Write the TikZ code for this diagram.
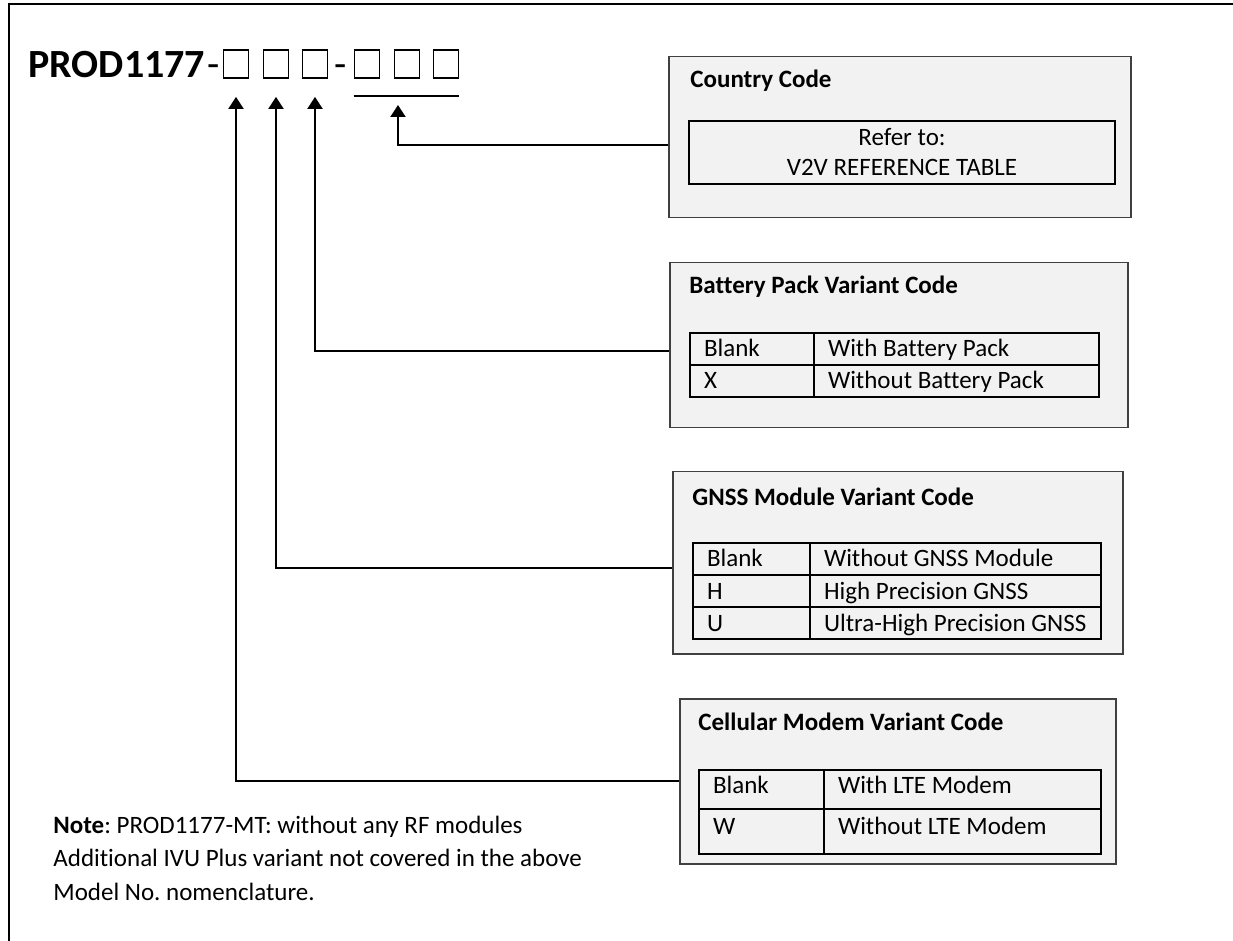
\documentclass[tikz,border=0pt]{standalone}
\usepackage{fontspec}
\setmainfont{Carlito}[Ligatures=NoCommon]
\usetikzlibrary{arrows.meta,positioning}
\newcommand\bodyfont{\fontsize{12.5}{15}\selectfont}
\newcommand\modelfont{\fontsize{20}{24}\selectfont}
\tikzset{
  codebox/.style  = {rectangle, draw=black!75, fill=black!5, line width=0.75pt,
                     anchor=north west, inner sep=0pt},
  boxtitle/.style = {anchor=base west, inner sep=0pt, font=\bodyfont\bfseries},
  cell/.style     = {rectangle, draw=black, line width=1pt, anchor=north west,
                     inner xsep=7pt, inner ysep=0pt, align=flush left},
  rowa/.style     = {text height=12pt, text depth=4pt},
  sq/.style       = {rectangle, draw=black, line width=0.9pt, minimum width=12.5pt,
                     minimum height=14pt, inner sep=0pt},
  ar/.style       = {-{Triangle[length=6pt, width=7.5pt]}, line width=1pt}
}
\begin{document}
\frenchspacing
\begin{tikzpicture}[x=0.5pt, y=-0.5pt, font=\bodyfont]
  \useasboundingbox (0,0) rectangle (1233,941);
  \draw[line width=1pt] (1233,4) -- (9,4) -- (9,941);

  % model number
  \node[anchor=base west, inner sep=0pt, font=\modelfont\bfseries] (prod) at (28,78) {PROD1177};
  \node[anchor=base west, inner sep=0pt, font=\modelfont] (dash1) at ([xshift=1pt]prod.base east) {-};
  \foreach \i/\x in {1/236,2/276,3/315,4/367,5/407,6/446}
    \node[sq] (s\i) at (\x,64) {};
  \node[anchor=base, inner sep=0pt, font=\modelfont] (dash2) at (341,78) {-};
  \draw[line width=1pt] ([yshift=-8.5pt]s4.south west) -- ([yshift=-8.5pt]s6.south east);
  \coordinate (t4) at (398,105);

  % country code
  \node[codebox, minimum width=231pt, minimum height=80.5pt] (country) at (668,56) {};
  \node[boxtitle] (countryt) at (690,88) {Country Code};
  \node[draw=black, line width=1pt, anchor=north west, minimum width=213pt, minimum height=31.5pt,
        align=center, inner sep=0pt, font=\fontsize{12.5}{15}\selectfont] (ref) at (688,120)
        {Refer to:\\V2V REFERENCE TABLE};

  % battery pack
  \node[codebox, minimum width=229pt, minimum height=82.5pt] (battery) at (669,262) {};
  \node[boxtitle] (batteryt) at (689,294) {Battery Pack Variant Code};
  \node[cell, rowa, text width=48pt] (b11) at (689,332) {Blank};
  \node[cell, rowa, text width=128.5pt] (b12) at (813,332) {With Battery Pack};
  \node[cell, rowa, text width=48pt] (b21) at (689,364) {X};
  \node[cell, rowa, text width=128.5pt] (b22) at (813,364) {Without Battery Pack};

  % gnss module
  \node[codebox, minimum width=225pt, minimum height=91pt] (gnss) at (672,471) {};
  \node[boxtitle] (gnsst) at (692,505) {GNSS Module Variant Code};
  \node[cell, rowa, text width=44.5pt] (g11) at (692,542) {Blank};
  \node[cell, rowa, text width=131.5pt] (g12) at (809,542) {Without GNSS Module};
  \node[cell, rowa, text width=44.5pt] (g21) at (692,574) {H};
  \node[cell, rowa, text width=131.5pt] (g22) at (809,574) {High Precision GNSS};
  \node[cell, rowa, text width=44.5pt] (g31) at (692,606) {U};
  \node[cell, rowa, text width=131.5pt] (g32) at (809,606) {\mbox{Ultra-High Precision GNSS}};

  % cellular modem
  \node[codebox, minimum width=218pt, minimum height=82.5pt] (cellular) at (679,698) {};
  \node[boxtitle] (cellulart) at (698,730) {Cellular Modem Variant Code};
  \node[cell, text height=11.5pt, text depth=8pt, text width=48.5pt] (c11) at (698,769) {Blank};
  \node[cell, text height=11.5pt, text depth=8pt, text width=124.5pt] (c12) at (823,769) {With LTE Modem};
  \node[cell, text height=12.5pt, text depth=10pt, text width=48.5pt] (c21) at (698,808) {W};
  \node[cell, text height=12.5pt, text depth=10pt, text width=124.5pt] (c22) at (823,808) {Without LTE Modem};

  % connectors
  \draw[ar] ([yshift=-4pt]country.west) -| (t4);
  \draw[ar] ([yshift=-3pt]battery.west) -| ([yshift=-9pt]s3.south);
  \draw[ar] ([yshift=-2.5pt]gnss.west) -| ([yshift=-9pt]s2.south);
  \draw[ar] (cellular.west) -| ([yshift=-9pt]s1.south);

  % note
  \node[anchor=base west, inner sep=0pt, align=left, font=\fontsize{12.5}{16.75}\selectfont] (note) at (53,900)
    {\textbf{Note}: PROD1177-MT: without any RF modules\\Additional IVU Plus variant not covered in the above\\Model No. nomenclature.};
\end{tikzpicture}
\end{document}
